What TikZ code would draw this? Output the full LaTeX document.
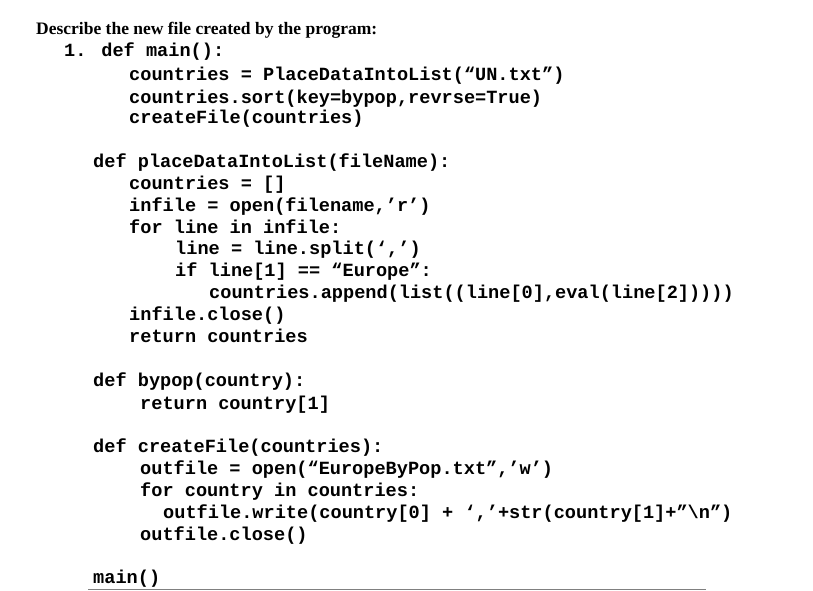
\documentclass[tikz,border=0pt]{standalone}
\usepackage{fontspec}
\setmainfont{Liberation Serif}
\newfontfamily\codefont{Liberation Mono}
\begin{document}
\begin{tikzpicture}[x=1pt,y=-1pt,
  ln/.style={anchor=base west,inner sep=0pt,font=\codefont\bfseries\fontsize{18.6}{20}\selectfont}]
\useasboundingbox[fill=white] (0,0) rectangle (813,591);
\node[anchor=base west,inner sep=0pt,font=\bfseries\fontsize{17.5}{20}\selectfont] (t) at (36,35) {Describe the new file created by the program:};
\node[ln] (l1) at (64,57) {1. def main():};
\node[ln] (l2) at (129,81) {countries = PlaceDataIntoList(“UN.txt”)};
\node[ln] (l3) at (129,103) {countries.sort(key=bypop,revrse=True)};
\node[ln] (l4) at (129,124) {createFile(countries)};
\node[ln] (l5) at (93,167) {def placeDataIntoList(fileName):};
\node[ln] (l6) at (129,189) {countries = []};
\node[ln] (l7) at (129,211) {infile = open(filename,’r’)};
\node[ln] (l8) at (129,233) {for line in infile:};
\node[ln] (l9) at (175,254) {line = line.split(‘,’)};
\node[ln] (l10) at (175,276) {if line[1] == “Europe”:};
\node[ln] (l11) at (209,298) {countries.append(list((line[0],eval(line[2]))))};
\node[ln] (l12) at (129,320) {infile.close()};
\node[ln] (l13) at (129,342) {return countries};
\node[ln] (l14) at (93,386) {def bypop(country):};
\node[ln] (l15) at (140,409) {return country[1]};
\node[ln] (l16) at (93,452) {def createFile(countries):};
\node[ln] (l17) at (140,474) {outfile = open(“EuropeByPop.txt”,’w’)};
\node[ln] (l18) at (140,496) {for country in countries:};
\node[ln] (l19) at (163,518) {outfile.write(country[0] + ‘,’+str(country[1]+”\textbackslash n”)};
\node[ln] (l20) at (140,540) {outfile.close()};
\node[ln] (l21) at (93,583) {main()};
\coordinate (a) at (88,589.5);
\coordinate (b) at (706,589.5);
\draw[gray,line width=1pt] (a) -- (b);
\end{tikzpicture}
\end{document}
